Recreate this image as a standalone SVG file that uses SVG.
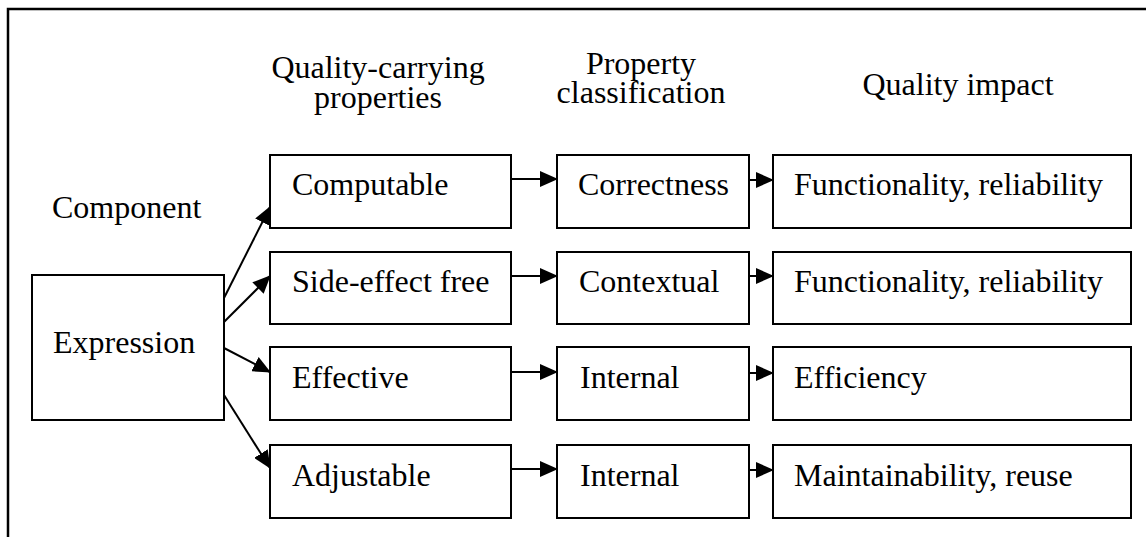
<svg xmlns="http://www.w3.org/2000/svg" width="1146" height="537" viewBox="0 0 1146 537">
<style>
text{font-family:"Liberation Serif","Times New Roman",serif;font-size:32px;fill:#000}
.box{fill:#fff;stroke:#000;stroke-width:2}
.c{stroke:#000;stroke-width:2;fill:none}
.h{text-anchor:middle}
</style>
<defs>
<marker id="ah" markerUnits="userSpaceOnUse" markerWidth="18" markerHeight="16" refX="17" refY="8" orient="auto">
<path d="M0,0 L18,8 L0,16 Z" fill="#000"/>
</marker>
</defs>
<rect width="1146" height="537" fill="#fff"/>
<path d="M8,537 L8,9 L1146,9" fill="none" stroke="#000" stroke-width="2.5"/>
<g id="headers">
<text class="h" x="378" y="78">Quality-carrying</text>
<text class="h" x="378" y="108">properties</text>
<text class="h" x="641" y="74">Property</text>
<text class="h" x="641" y="103">classification</text>
<text class="h" x="958" y="95">Quality impact</text>
<text x="52" y="218">Component</text>
</g>
<g id="connectors">
<line class="c" x1="224" y1="298" x2="270" y2="207" marker-end="url(#ah)"/>
<line class="c" x1="224" y1="322" x2="270" y2="276" marker-end="url(#ah)"/>
<line class="c" x1="224" y1="348" x2="270" y2="372" marker-end="url(#ah)"/>
<line class="c" x1="224" y1="395" x2="270" y2="468" marker-end="url(#ah)"/>
<line class="c" x1="511" y1="179" x2="557" y2="179" marker-end="url(#ah)"/>
<line class="c" x1="511" y1="276" x2="557" y2="276" marker-end="url(#ah)"/>
<line class="c" x1="511" y1="372" x2="557" y2="372" marker-end="url(#ah)"/>
<line class="c" x1="511" y1="469" x2="557" y2="469" marker-end="url(#ah)"/>
<line class="c" x1="749" y1="180" x2="773" y2="180" marker-end="url(#ah)"/>
<line class="c" x1="749" y1="276" x2="773" y2="276" marker-end="url(#ah)"/>
<line class="c" x1="749" y1="373" x2="773" y2="373" marker-end="url(#ah)"/>
<line class="c" x1="749" y1="470" x2="773" y2="470" marker-end="url(#ah)"/>
</g>
<g id="expression"><rect class="box" x="32" y="275" width="192" height="145"/><text x="53" y="353">Expression</text></g>
<g id="computable"><rect class="box" x="270" y="155" width="241" height="73"/><text x="292" y="195">Computable</text></g>
<g id="sideeffect"><rect class="box" x="270" y="252" width="241" height="72"/><text x="292" y="292">Side-effect free</text></g>
<g id="effective"><rect class="box" x="270" y="347" width="241" height="73"/><text x="292" y="388">Effective</text></g>
<g id="adjustable"><rect class="box" x="270" y="445" width="241" height="73"/><text x="292" y="486">Adjustable</text></g>
<g id="correctness"><rect class="box" x="557" y="155" width="192" height="73"/><text x="578" y="195">Correctness</text></g>
<g id="contextual"><rect class="box" x="557" y="252" width="192" height="72"/><text x="579" y="292">Contextual</text></g>
<g id="internal1"><rect class="box" x="557" y="347" width="192" height="73"/><text x="580" y="388">Internal</text></g>
<g id="internal2"><rect class="box" x="557" y="445" width="192" height="73"/><text x="580" y="486">Internal</text></g>
<g id="impact1"><rect class="box" x="773" y="155" width="358" height="73"/><text x="794" y="195">Functionality, reliability</text></g>
<g id="impact2"><rect class="box" x="773" y="252" width="358" height="72"/><text x="794" y="292">Functionality, reliability</text></g>
<g id="impact3"><rect class="box" x="773" y="347" width="358" height="73"/><text x="794" y="388">Efficiency</text></g>
<g id="impact4"><rect class="box" x="773" y="445" width="358" height="73"/><text x="794" y="486">Maintainability, reuse</text></g>
</svg>
